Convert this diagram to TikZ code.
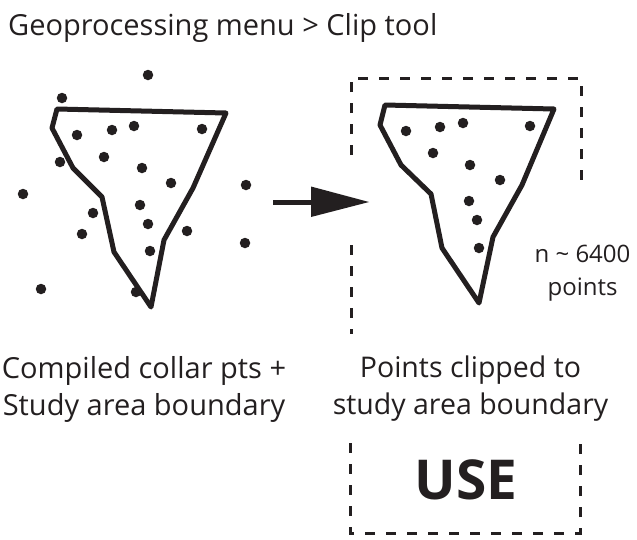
\documentclass[tikz,border=0pt]{standalone}
\usepackage{fontspec}
\setmainfont{Open Sans}
\definecolor{ink}{HTML}{231F20}
\tikzset{
  boundary/.style={draw=ink,line width=5pt,line join=round,line cap=round},
  dot/.style={circle,fill=ink,inner sep=0pt,minimum size=10.5pt},
  dashbox/.style={draw=ink,line width=3pt,dash pattern=on 10pt off 11pt},
  lbl/.style={text=ink,align=center,inner sep=0pt}
}
\begin{document}
\begin{tikzpicture}[x=1pt,y=-1pt]
\useasboundingbox (0,0) rectangle (637,539);
% boundaries
\draw[boundary] (57,109) -- (226,113) -- (193,188) -- (164,240) -- (151,307) -- (114,252) -- (102,197) -- (73,168) -- (52,128) -- cycle;
\draw[boundary] (385,105) -- (554,109) -- (522,185) -- (493,237) -- (479,303) -- (442,248) -- (431,194) -- (401,165) -- (380,125) -- cycle;
% dots left
\foreach \p [count=\i] in {(148,75),(62,98),(77,135),(112,130),(134,126),(202,129),(60,162),(104,157),(142,168),(171,183),(246,185),(23,194),(140,205),(93,213),(148,224),(187,231),(82,234),(150,251),(245,243),(41,289),(136,292)}
  \node[dot] (a\i) at \p {};
% dots right
\foreach \p [count=\i] in {(406,131),(440,127),(463,123),(530,126),(433,153),(470,165),(500,180),(469,201),(477,220),(479,248)}
  \node[dot] (b\i) at \p {};
% arrow
\coordinate (arrowstart) at (273,202);
\coordinate (arrowneck) at (312,202);
\coordinate (arrowtip) at (369,202);
\draw[ink,line width=5pt] (arrowstart) -- (arrowneck);
\fill[ink] (311,186.500) -- (arrowtip) -- (311,217) -- cycle;
% dashed frames
\draw[dashbox] (351,155) -- (351,78) -- (581,78) -- (581,190);
\draw[dashbox] (351,245) -- (351,334);
\draw[dashbox] (350,443) -- (350,533) -- (580,533) -- (580,443);
% text
\node[lbl,anchor=west,font=\fontsize{29pt}{34pt}\selectfont] (title) at (8,28) {Geoprocessing menu > Clip tool};
\node[lbl,font=\fontsize{29pt}{37pt}\selectfont] (left) at (144,389) {Compiled collar pts +\\Study area boundary};
\node[lbl,font=\fontsize{28.500pt}{37pt}\selectfont] (right) at (470.500,389) {Points clipped to\\study area boundary};
\node[lbl,font=\fontsize{24pt}{33pt}\selectfont] (n) at (582.500,273) {n {\char`~} 6400\\points};
\node[lbl,font=\fontsize{55pt}{60pt}\selectfont\bfseries] (use) at (466,480) {USE};
\end{tikzpicture}
\end{document}
